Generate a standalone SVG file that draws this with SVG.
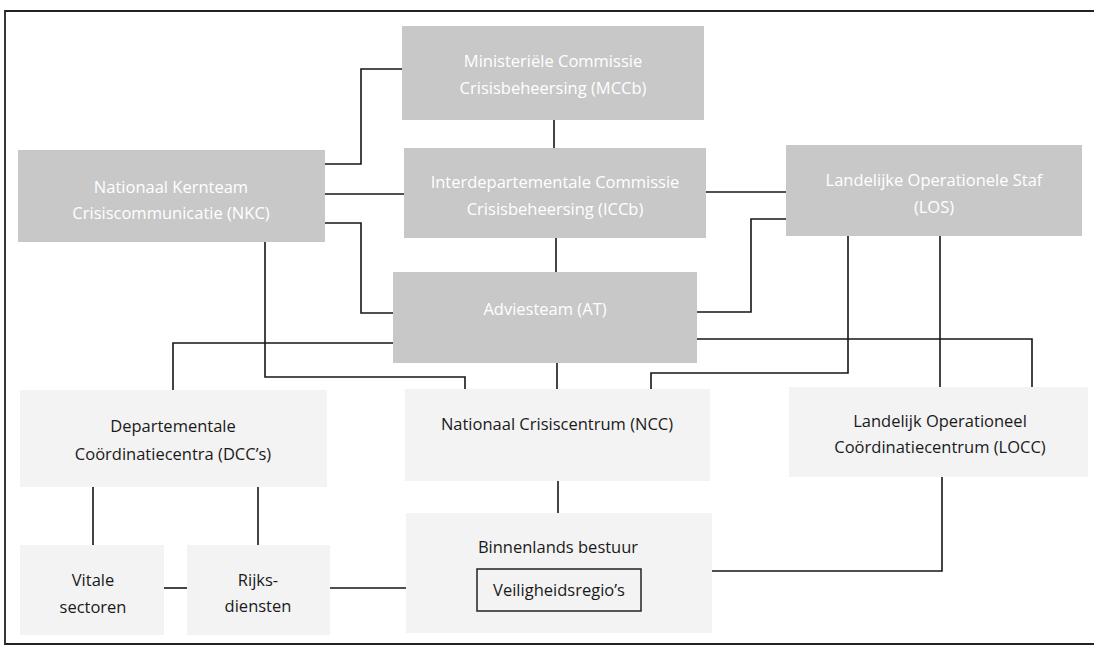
<svg xmlns="http://www.w3.org/2000/svg" width="1097" height="649" viewBox="0 0 1097 649">
<style>
.dark{fill:#c8c8c8;}
.light{fill:#f3f3f3;}
.wt{font-family:"Open Sans","Noto Sans",sans-serif;font-size:16.5px;fill:#ffffff;text-anchor:middle;}
.bt{font-family:"Open Sans","Noto Sans",sans-serif;font-size:16.5px;fill:#1a1a1a;text-anchor:middle;}
.conn path{fill:none;stroke:#161616;stroke-width:1.6;}
</style>
<rect width="1097" height="649" fill="#ffffff"/>
<path d="M1094,11 H5 V644 H1094" fill="none" stroke="#222" stroke-width="1.8"/>
<g id="MCCb"><rect class="dark" x="402" y="26" width="302" height="94"/><text class="wt" x="553" y="67">Ministeriële Commissie</text><text class="wt" x="553" y="94">Crisisbeheersing (MCCb)</text></g>
<g id="ICCb"><rect class="dark" x="404" y="148" width="302" height="90"/><text class="wt" x="555" y="188">Interdepartementale Commissie</text><text class="wt" x="555" y="215">Crisisbeheersing (ICCb)</text></g>
<g id="NKC"><rect class="dark" x="18" y="150" width="307" height="92"/><text class="wt" x="171" y="193">Nationaal Kernteam</text><text class="wt" x="171" y="219">Crisiscommunicatie (NKC)</text></g>
<g id="LOS"><rect class="dark" x="786" y="145" width="296" height="91"/><text class="wt" x="934" y="186">Landelijke Operationele Staf</text><text class="wt" x="934" y="213">(LOS)</text></g>
<g id="AT"><rect class="dark" x="393" y="272" width="304" height="91"/><text class="wt" x="545" y="315">Adviesteam (AT)</text></g>
<g id="DCC"><rect class="light" x="20" y="390" width="307" height="97"/><text class="bt" x="173" y="432">Departementale</text><text class="bt" x="173" y="460">Coördinatiecentra (DCC’s)</text></g>
<g id="NCC"><rect class="light" x="405" y="389" width="305" height="92"/><text class="bt" x="557" y="430">Nationaal Crisiscentrum (NCC)</text></g>
<g id="LOCC"><rect class="light" x="789" y="387" width="299" height="90"/><text class="bt" x="940" y="427">Landelijk Operationeel</text><text class="bt" x="940" y="453">Coördinatiecentrum (LOCC)</text></g>
<g id="Vitale"><rect class="light" x="20" y="545" width="144" height="90"/><text class="bt" x="93" y="586">Vitale</text><text class="bt" x="93" y="613">sectoren</text></g>
<g id="Rijks"><rect class="light" x="187" y="545" width="143" height="90"/><text class="bt" x="258" y="586">Rijks-</text><text class="bt" x="258" y="612">diensten</text></g>
<g id="Binnenlands"><rect class="light" x="406" y="513" width="306" height="120"/><text class="bt" x="558" y="553">Binnenlands bestuur</text><rect x="477" y="569" width="164" height="42" fill="none" stroke="#222" stroke-width="1.5"/><text class="bt" x="559" y="596">Veiligheidsregio’s</text></g>
<g id="connectors" class="conn">
<path d="M325,164 H361 V69 H402"/>
<path d="M325,194 H404"/>
<path d="M325,223 H361 V313 H393"/>
<path d="M265,242 V377 H465 V389"/>
<path d="M393,343 H173 V390"/>
<path d="M554,120 V148"/>
<path d="M556,238 V272"/>
<path d="M706,192 H786"/>
<path d="M697,312 H751 V219 H786"/>
<path d="M557,363 V389"/>
<path d="M697,339 H1032 V387"/>
<path d="M848,236 V373 H651 V389"/>
<path d="M940,236 V387"/>
<path d="M93,487 V545"/>
<path d="M258,487 V545"/>
<path d="M164,588 H187"/>
<path d="M330,588 H406"/>
<path d="M558,481 V513"/>
<path d="M942,477 V571 H712"/>
</g>
</svg>
